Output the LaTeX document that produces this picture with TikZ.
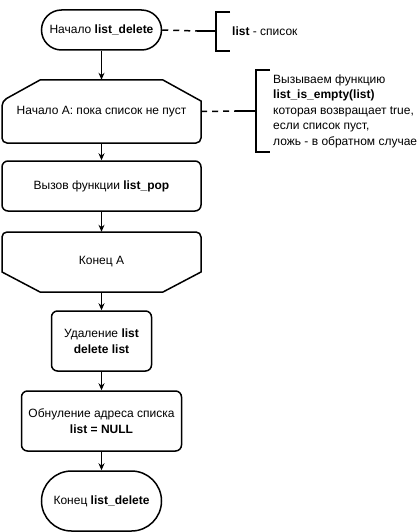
\documentclass[tikz,border=0pt]{standalone}
\usepackage{fontspec}
\setmainfont{Liberation Sans}
\usetikzlibrary{arrows.meta}
\begin{document}
\begin{tikzpicture}[x=1pt,y=-1pt,
  font=\fontsize{12}{15.5}\selectfont,
  box/.style={draw, line width=1.5pt, rounded corners=6pt, inner sep=0pt, align=center},
  term/.style={draw, line width=1.5pt, inner sep=0pt, align=center},
  txt/.style={inner sep=0pt, align=center},
  outline/.style={line width=1.5pt},
  arr/.style={line width=1pt, -{Stealth[length=7pt,width=6pt]}},
  anno/.style={line width=1.5pt, dash pattern=on 6pt off 5pt},
  annosolid/.style={line width=1.5pt}]
\useasboundingbox (0,0) rectangle (417,532);

% flowchart nodes
\node[term, minimum width=120pt, minimum height=40pt, rounded corners=20pt] (start) at (101.5,30) {Начало \textbf{list\_delete}};

\node[txt, minimum width=199pt, minimum height=63pt] (loopA) at (101.5,111.5) {Начало А: пока список не пуст};
\draw[outline] (40,80) -- (163,80) -- (201,101) [rounded corners=5pt] -- (201,143) -- (2,143) -- (2,101) [sharp corners] -- cycle;

\node[box, minimum width=199pt, minimum height=50pt] (pop) at (101.5,186) {Вызов функции \textbf{list\_pop}};

\node[txt, minimum width=199pt, minimum height=60pt] (endA) at (101.5,262) {Конец А};
\draw[outline] (201,272) -- (163,292) -- (40,292) -- (2,272) [rounded corners=5pt] -- (2,232) -- (201,232) [sharp corners] -- cycle;

\node[box, minimum width=100pt, minimum height=60pt] (del) at (101.5,341) {Удаление \textbf{list}\\\textbf{delete list}};
\node[box, minimum width=160pt, minimum height=60pt] (null) at (101.5,421) {Обнуление адреса списка\\\textbf{list = NULL}};
\node[term, minimum width=120pt, minimum height=60pt, rounded corners=30pt] (fin) at (101.5,501) {Конец \textbf{list\_delete}};

% arrows
\draw[arr] (start) -- (loopA);
\draw[arr] (loopA) -- (pop);
\draw[arr] (pop) -- (endA);
\draw[arr] (endA) -- (del);
\draw[arr] (del) -- (null);
\draw[arr] (null) -- (fin);

% annotation 1
\coordinate (d1) at (197,31);
\coordinate (b1) at (216,31);
\draw[anno] (start.east) -- (d1);
\draw[annosolid] (d1) -- (b1);
\draw[annosolid] (230,12) -- (216,12) -- (216,51) -- (230,51);
\node[inner sep=0pt, anchor=west] (t1) at (232,31) {\textbf{list} - список};

% annotation 2
\coordinate (d2) at (235,111);
\coordinate (b2) at (256,111);
\draw[anno] (loopA.east) -- (d2);
\draw[annosolid] (d2) -- (b2);
\draw[annosolid] (270,70) -- (256,70) -- (256,152) -- (270,152);
\node[inner sep=0pt, anchor=west, align=left] (t2) at (273,111) {Вызываем функцию\\\textbf{list\_is\_empty(list)}\\которая возвращает true,\\если список пуст,\\ложь - в обратном случае};
\end{tikzpicture}
\end{document}
